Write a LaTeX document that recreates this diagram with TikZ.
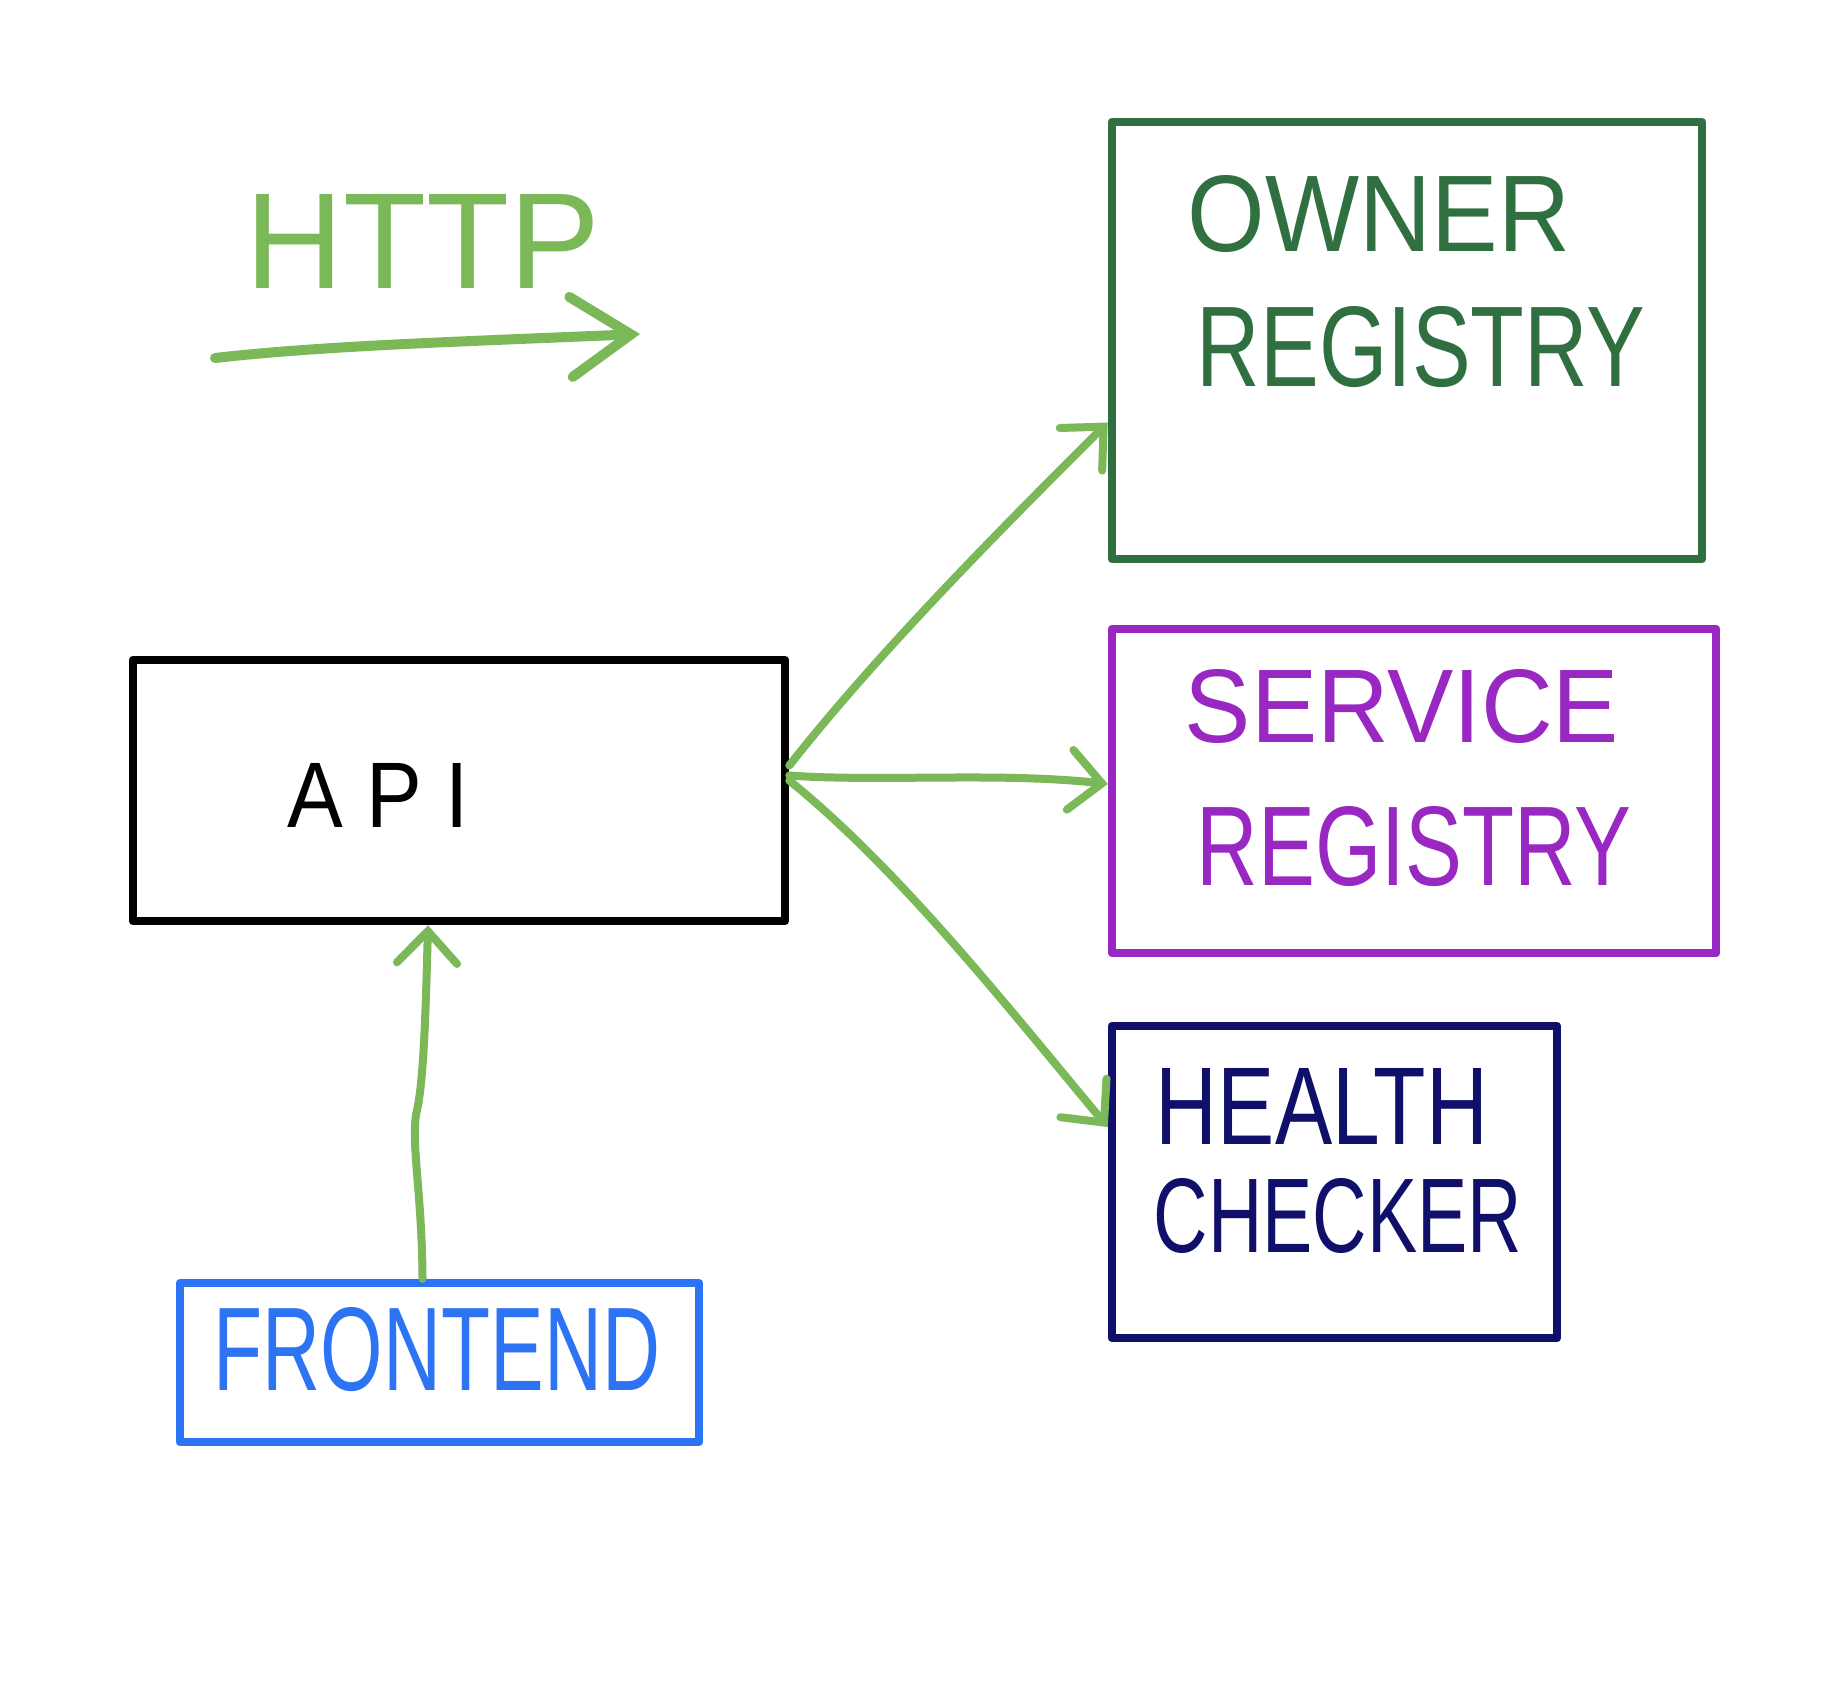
\documentclass[tikz,border=0pt]{standalone}
\usepackage{fontspec}
\setmainfont{Liberation Sans}
\usepackage{graphicx}
\usetikzlibrary{arrows.meta,fit,calc}
\definecolor{flowgreen}{RGB}{122,184,88}
\definecolor{ownergreen}{RGB}{48,112,64}
\definecolor{svcpurple}{RGB}{153,40,194}
\definecolor{hcnavy}{RGB}{16,16,106}
\definecolor{feblue}{RGB}{45,116,244}
\newcommand\fitw[3]{\resizebox{#1cm}{#2cm}{#3}}
\begin{document}
\begin{tikzpicture}[x=0.01cm,y=-0.01cm,
  box/.style={draw, line width=0.085cm, inner sep=0pt, line join=round},
  lbl/.style={inner sep=0pt, anchor=center, font=\fontsize{30}{30}\selectfont},
  flow/.style={draw=flowgreen, line width=0.08cm, line cap=round, line join=round,
    -{Straight Barb[length=0.32cm,width=0.6cm,line cap=round]}},
  legendarrow/.style={draw=flowgreen, line width=0.1cm, line cap=round, line join=round,
    -{Straight Barb[length=0.6cm,width=0.8cm,line cap=round]}}]
\fill[white] (0,0) rectangle (1840,1696);
\useasboundingbox (0,0) rectangle (1840,1696);

% legend
\node[lbl, text=flowgreen] (http) at (423,241) {\fitw{3.55}{0.94}{HTTP}};
\coordinate (legA) at (215,358);
\coordinate (legB) at (640,334);
\draw[legendarrow] (legA) .. controls (320,346) and (450,342) .. (legB);

% boxes
\node[box, draw=black, fit={(133,660) (785,921)}] (api) {};
\node[box, draw=ownergreen, fit={(1112,122) (1702,559)}] (owner) {};
\node[box, draw=svcpurple, fit={(1112,629) (1716,953)}] (service) {};
\node[box, draw=hcnavy, fit={(1112,1026) (1557,1338)}] (health) {};
\node[box, draw=feblue, fit={(180,1283) (699,1442)}] (frontend) {};

% labels
\node[lbl, text=black] (apiT) at (378,795) {\fitw{1.81}{0.64}{A P I}};
\node[lbl, text=ownergreen] (ownerT1) at (1379,214) {\fitw{3.82}{0.76}{OWNER}};
\node[lbl, text=ownergreen] (ownerT2) at (1421,347) {\fitw{4.48}{0.80}{REGISTRY}};
\node[lbl, text=svcpurple] (serviceT1) at (1402,706) {\fitw{4.34}{0.73}{SERVICE}};
\node[lbl, text=svcpurple] (serviceT2) at (1414,847) {\fitw{4.34}{0.79}{REGISTRY}};
\node[lbl, text=hcnavy] (healthT1) at (1322,1106) {\fitw{3.32}{0.76}{HEALTH}};
\node[lbl, text=hcnavy] (healthT2) at (1338,1216) {\fitw{3.68}{0.74}{CHECKER}};
\node[lbl, text=feblue] (frontendT) at (437,1350) {\fitw{4.46}{0.83}{FRONTEND}};

% connectors
\draw[flow] ($(api.east)+(0,-25)$) .. controls (880,650) and (1010,520) .. ($(owner.west)+(0,82)$);
\draw[flow] ($(api.east)+(0,-15)$) .. controls (880,782) and (1000,772) .. ($(service.west)+(0,-7)$);
\draw[flow] ($(api.east)+(0,-10)$) .. controls (900,870) and (1010,1010) .. ($(health.west)+(0,-55)$);
\draw[flow] ($(frontend.north)+(-17,0)$) .. controls (422,1190) and (410,1140) .. (417,1110)
  .. controls (424,1080) and (426,1000) .. ($(api.south)+(-31,0)$);
\end{tikzpicture}
\end{document}
